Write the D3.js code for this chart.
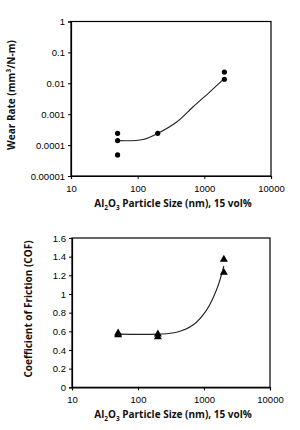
<!DOCTYPE html>
<html><head><meta charset="utf-8">
<script src="https://cdn.jsdelivr.net/npm/d3@7"></script>
<style>
body{margin:0;background:#fff;}
svg{display:block;}
.tick text{font-family:"Liberation Sans",Arial,sans-serif;font-size:9.5px;fill:#000;}
.ttl{font-family:"Open Sans","Lato",sans-serif;font-weight:700;font-size:10px;fill:#111;}
</style>
</head><body>
<script>
// ---- data ----
const xTicks = [10, 100, 1000, 10000];
const wearTicks = [0.00001, 0.0001, 0.001, 0.01, 0.1, 1];
const wearTickLabels = ["0.00001", "0.0001", "0.001", "0.01", "0.1", "1"];
const wearSize = [50, 50, 50, 200, 2000, 2000];
const wearRate = [0.00024, 0.00014, 0.000048, 0.00024, 0.023, 0.0135];
const wearCurveSize = [50, 120, 200, 385, 680, 1210, 2000];
const wearCurveRate = [0.00014, 0.000152, 0.00024, 0.00056, 0.00174, 0.0053, 0.0145];

const cofTicks = [0, 0.2, 0.4, 0.6, 0.8, 1, 1.2, 1.4, 1.6];
const cofSize = [50, 50, 200, 200, 2000, 2000];
const cofValue = [0.58, 0.56, 0.57, 0.54, 1.37, 1.23];
const cofCurveSize = [50, 200, 385, 690, 1100, 1560, 2000];
const cofCurveValue = [0.57, 0.57, 0.59, 0.67, 0.83, 1.05, 1.3];

const W = 300, H = 430;
const svg = d3.select("body").append("svg").attr("width", W).attr("height", H);

function xTitle(g, x, y) {
  const t = g.append("text").attr("class", "ttl").attr("x", x).attr("y", y).attr("text-anchor", "middle");
  t.append("tspan").text("Al");
  t.append("tspan").attr("dy", 2.5).attr("font-size", "6.5px").text("2");
  t.append("tspan").attr("dy", -2.5).text("O");
  t.append("tspan").attr("dy", 2.5).attr("font-size", "6.5px").text("3");
  t.append("tspan").attr("dy", -2.5).text(" Particle Size (nm), 15 vol%");
}

// ---- top chart ----
{
  const x = d3.scaleLog().domain([10, 10000]).range([71, 271]);
  const y = d3.scaleLog().domain([0.00001, 1]).range([176, 21.5]);
  const g = svg.append("g");
  g.append("rect").attr("x", 71).attr("y", 21.5).attr("width", 200).attr("height", 154.5)
    .attr("fill", "none").attr("stroke", "#000").attr("stroke-width", 1.2);
  g.append("g").attr("transform", "translate(0,176)")
    .call(d3.axisBottom(x).tickValues(xTicks).tickFormat(d3.format("d")).tickSize(3).tickPadding(6))
    .call(s => s.select(".domain").attr("stroke-width", 1.2));
  g.append("g").attr("transform", "translate(71,0)")
    .call(d3.axisLeft(y).tickValues(wearTicks).tickFormat((d, i) => wearTickLabels[i]).tickSize(3).tickPadding(3))
    .call(s => s.select(".domain").attr("stroke-width", 1.2));
  const line = d3.line().x(d => x(d[0])).y(d => y(d[1])).curve(d3.curveCatmullRom.alpha(0.5));
  g.append("path").datum(wearCurveSize.map((s, i) => [s, wearCurveRate[i]]))
    .attr("d", line).attr("fill", "none").attr("stroke", "#222").attr("stroke-width", 1.1);
  g.selectAll("circle.pt").data(wearSize.map((s, i) => [s, wearRate[i]])).join("circle")
    .attr("cx", d => x(d[0])).attr("cy", d => y(d[1])).attr("r", 2.6).attr("fill", "#000");
  g.append("text").attr("class", "ttl").attr("transform", "translate(15,95) rotate(-90)")
    .attr("text-anchor", "middle").text("Wear Rate (mm³/N-m)");
  xTitle(g, 173, 207);
}

// ---- bottom chart ----
{
  const x = d3.scaleLog().domain([10, 10000]).range([72, 270]);
  const y = d3.scaleLinear().domain([0, 1.6]).range([387.3, 238]);
  const g = svg.append("g");
  g.append("rect").attr("x", 72).attr("y", 238).attr("width", 198).attr("height", 149.3)
    .attr("fill", "none").attr("stroke", "#000").attr("stroke-width", 1.2);
  g.append("g").attr("transform", "translate(0,387.3)")
    .call(d3.axisBottom(x).tickValues(xTicks).tickFormat(d3.format("d")).tickSize(3).tickPadding(6))
    .call(s => s.select(".domain").attr("stroke-width", 1.2));
  g.append("g").attr("transform", "translate(72,0)")
    .call(d3.axisLeft(y).tickValues(cofTicks).tickFormat(d => String(d)).tickSize(3).tickPadding(3))
    .call(s => s.select(".domain").attr("stroke-width", 1.2));
  const line = d3.line().x(d => x(d[0])).y(d => y(d[1])).curve(d3.curveCatmullRom.alpha(0.5));
  g.append("path").datum(cofCurveSize.map((s, i) => [s, cofCurveValue[i]]))
    .attr("d", line).attr("fill", "none").attr("stroke", "#222").attr("stroke-width", 1.1);
  const tri = d3.symbol().type(d3.symbolTriangle).size(28);
  g.selectAll("path.pt").data(cofSize.map((s, i) => [s, cofValue[i]])).join("path")
    .attr("class", "pt").attr("d", tri)
    .attr("transform", d => `translate(${x(d[0])},${y(d[1])})`).attr("fill", "#000");
  g.append("text").attr("class", "ttl").attr("transform", "translate(32,309) rotate(-90)")
    .attr("text-anchor", "middle").text("Coefficient of Friction (COF)");
  xTitle(g, 173, 418);
}
</script>
</body></html>
